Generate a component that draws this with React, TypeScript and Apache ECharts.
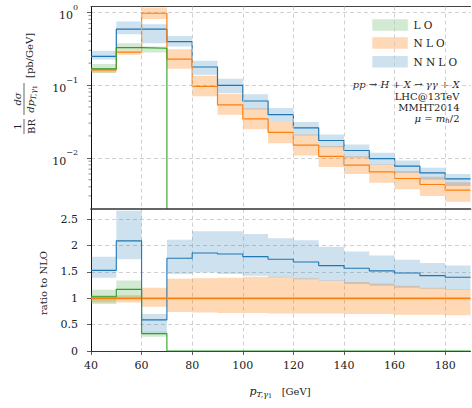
import React, { useEffect, useRef } from "react";
import * as echarts from "echarts";

// Bin edges in p_T [GeV]
const binEdges = [40, 50, 60, 70, 80, 90, 100, 110, 120, 130, 140, 150, 160, 170, 180, 190];

// 1/BR dσ/dp_T [pb/GeV]
const loCentral = [0.167, 0.327, 0.321, 0, 0, 0, 0, 0, 0, 0, 0, 0, 0, 0, 0];
const loUpper = [0.194, 0.376, 0.338, 0, 0, 0, 0, 0, 0, 0, 0, 0, 0, 0, 0];
const loLower = [0.146, 0.3, 0.28, 0, 0, 0, 0, 0, 0, 0, 0, 0, 0, 0, 0];

const nloCentral = [0.162, 0.283, 0.969, 0.227, 0.0959, 0.0533, 0.0342, 0.0224, 0.0149, 0.0105, 0.00792, 0.00643, 0.0052, 0.0043, 0.0036];
const nloUpper = [0.171, 0.3, 1.16, 0.311, 0.134, 0.076, 0.048, 0.031, 0.0209, 0.0145, 0.0105, 0.0081, 0.0066, 0.0055, 0.0046];
const nloLower = [0.149, 0.26, 0.81, 0.167, 0.07, 0.039, 0.0246, 0.0158, 0.0108, 0.0075, 0.006, 0.00455, 0.0037, 0.003, 0.0025];

const nnloCentral = [0.247, 0.585, 0.585, 0.396, 0.177, 0.099, 0.0604, 0.0392, 0.0258, 0.0173, 0.0126, 0.00978, 0.00767, 0.00623, 0.00515];
const nnloUpper = [0.295, 0.744, 0.685, 0.473, 0.215, 0.122, 0.075, 0.0484, 0.031, 0.0209, 0.0152, 0.0117, 0.0092, 0.0073, 0.006];
const nnloLower = [0.225, 0.5, 0.376, 0.338, 0.138, 0.078, 0.046, 0.031, 0.0203, 0.014, 0.01, 0.008, 0.0062, 0.005, 0.0041];

// Ratios to NLO
const loRatio = [1.03, 1.17, 0.33, 0, 0, 0, 0, 0, 0, 0, 0, 0, 0, 0, 0];
const loRatioUpper = [1.16, 1.34, 0.37, 0, 0, 0, 0, 0, 0, 0, 0, 0, 0, 0, 0];
const loRatioLower = [0.89, 1.0, 0.27, 0, 0, 0, 0, 0, 0, 0, 0, 0, 0, 0, 0];

const nloRatio = [1, 1, 1, 1, 1, 1, 1, 1, 1, 1, 1, 1, 1, 1, 1];
const nloRatioUpper = [1.06, 1.06, 1.2, 1.37, 1.38, 1.39, 1.41, 1.41, 1.38, 1.34, 1.31, 1.28, 1.24, 1.2, 1.17];
const nloRatioLower = [0.92, 0.92, 0.84, 0.74, 0.73, 0.72, 0.72, 0.71, 0.71, 0.71, 0.7, 0.7, 0.69, 0.69, 0.68];

const nnloRatio = [1.53, 2.09, 0.59, 1.76, 1.86, 1.84, 1.79, 1.74, 1.69, 1.62, 1.57, 1.52, 1.48, 1.43, 1.4];
const nnloRatioUpper = [1.79, 2.66, 0.7, 2.11, 2.27, 2.27, 2.22, 2.14, 2.1, 1.98, 1.89, 1.81, 1.73, 1.67, 1.62];
const nnloRatioLower = [1.39, 1.74, 0.35, 1.46, 1.49, 1.46, 1.43, 1.4, 1.36, 1.33, 1.27, 1.24, 1.2, 1.18, 1.16];

const ratioTicks = [0, 0.5, 1, 1.5, 2, 2.5];

const X_MIN = 40;
const X_MAX = 190;
const Y_LOG_MIN = 0.002;
const Y_LOG_MAX = 1.2;
const R_MAX = 2.7;

const SERIF = '"DejaVu Serif", "Liberation Serif", serif';
const INK = "#222";
const C_LO = "#2ca02c";
const C_NLO = "#ff7f0e";
const C_NNLO = "#1f77b4";
const F_LO = "rgba(44,160,44,0.22)";
const F_NLO = "rgba(255,127,14,0.3)";
const F_NNLO = "rgba(31,119,180,0.22)";

// step outline of a histogram; a bin dropping to zero ends the line at `floor`
function stepPoints(vals: number[], floor?: number) {
  const pts: number[][] = [];
  for (let i = 0; i < vals.length; i++) {
    if (floor !== undefined && vals[i] <= 0) {
      pts.push([binEdges[i], floor]);
      break;
    }
    pts.push([binEdges[i], vals[i]], [binEdges[i + 1], vals[i]]);
  }
  return pts;
}

function bandData(lo: number[], hi: number[]) {
  const d: number[][] = [];
  for (let i = 0; i < lo.length; i++) {
    if (hi[i] > 0) d.push([binEdges[i], binEdges[i + 1], lo[i], hi[i]]);
  }
  return d;
}

function bandSeries(name: string, lo: number[], hi: number[], fill: string, xi: number, yi: number) {
  return {
    name,
    type: "custom",
    xAxisIndex: xi,
    yAxisIndex: yi,
    clip: true,
    silent: true,
    z: 1,
    encode: { x: [0, 1], y: [2, 3] },
    data: bandData(lo, hi),
    renderItem: (params: any, api: any) => {
      if (params.dataIndexInside !== 0) return null;
      const n = params.dataInsideLength;
      const top: number[][] = [];
      const bot: number[][] = [];
      for (let i = 0; i < n; i++) {
        const x0 = api.value(0, i);
        const x1 = api.value(1, i);
        const l = api.value(2, i);
        const h = api.value(3, i);
        top.push(api.coord([x0, h]), api.coord([x1, h]));
        bot.push(api.coord([x0, l]), api.coord([x1, l]));
      }
      return {
        type: "polygon",
        shape: { points: top.concat(bot.reverse()) },
        style: { fill, stroke: "none" },
      };
    },
  };
}

function lineSeries(name: string, pts: number[][], color: string, width: number, xi: number, yi: number, z = 3) {
  return {
    name,
    type: "line",
    xAxisIndex: xi,
    yAxisIndex: yi,
    data: pts,
    showSymbol: false,
    symbol: "none",
    silent: true,
    clip: true,
    z,
    lineStyle: { color, width },
  };
}

const dashed = { show: true, lineStyle: { color: "#c4c4c4", type: [4, 3] as any, width: 0.8 }, showMinLine: false, showMaxLine: false };

function txt(x: number, y: number, text: string, opts: any = {}) {
  const align = opts.align || "center";
  const valign = opts.valign || "middle";
  return {
    type: "text",
    x,
    y,
    silent: true,
    style: {
      text,
      fontFamily: SERIF,
      fontSize: opts.size || 10,
      fontStyle: opts.italic ? "italic" : "normal",
      fill: INK,
      align,
      verticalAlign: valign,
      textAlign: align,
      textVerticalAlign: valign,
    },
  };
}

// a run of text pieces (italic / lowered / smaller) set side by side
type Piece = { t: string; it?: boolean; size?: number; dy?: number };
let measureCtx: CanvasRenderingContext2D | null = null;
function widthOf(p: Piece) {
  if (!measureCtx) measureCtx = document.createElement("canvas").getContext("2d");
  measureCtx!.font = `${p.it ? "italic " : ""}${p.size || 10}px ${SERIF}`;
  return measureCtx!.measureText(p.t).width;
}
function run(x: number, y: number, pieces: Piece[], anchor: "left" | "center" | "right") {
  const total = pieces.reduce((s, p) => s + widthOf(p), 0);
  let cx = anchor === "left" ? x : anchor === "center" ? x - total / 2 : x - total;
  const out: any[] = [];
  for (const p of pieces) {
    out.push(txt(cx, y + (p.dy || 0), p.t, { align: "left", italic: p.it, size: p.size || 10 }));
    cx += widthOf(p);
  }
  return out;
}

// letter-spaced legend word
function spaced(x: number, y: number, word: string, gap: number) {
  const out: any[] = [];
  let cx = x;
  for (const ch of word) {
    out.push(txt(cx, y, ch, { align: "left", size: 10.5 }));
    cx += widthOf({ t: ch, size: 10.5 }) + gap;
  }
  return out;
}

function minorTickValues() {
  const v: number[] = [];
  for (let e = -3; e <= 0; e++) {
    for (let m = 2; m <= 9; m++) {
      const val = m * Math.pow(10, e);
      if (val > Y_LOG_MIN && val < Y_LOG_MAX) v.push(val);
    }
  }
  return v;
}

function buildOption() {
  const gridL = 91;
  const gridW = 379.5;

  const legend = [
    { label: "LO", fill: F_LO, y: 19.2 },
    { label: "NLO", fill: F_NLO, y: 37.3 },
    { label: "NNLO", fill: F_NNLO, y: 56 },
  ];
  const legendEls: any[] = [];
  legend.forEach((l) => {
    legendEls.push({ type: "rect", silent: true, shape: { x: 372.3, y: l.y, width: 35.5, height: 11.5 }, style: { fill: l.fill } });
    legendEls.push(...spaced(413.5, l.y + 5.5, l.label, 3.2));
  });

  const annot = [
    ...run(459.5, 84.7, [
      { t: "pp", it: true },
      { t: " → " },
      { t: "H", it: true },
      { t: " + " },
      { t: "X", it: true },
      { t: " → " },
      { t: "γγ", it: true },
      { t: " + " },
      { t: "X", it: true },
    ], "right"),
    txt(459.5, 96.2, "LHC@13TeV", { align: "right" }),
    txt(459.5, 107.5, "MMHT2014", { align: "right" }),
    ...run(459.5, 118.8, [
      { t: "μ", it: true },
      { t: " = " },
      { t: "m", it: true },
      { t: "h", it: true, size: 7, dy: 2.5 },
      { t: "/2" },
    ], "right"),
  ];

  const yLabelTop = {
    type: "group",
    x: 24,
    y: 134,
    rotation: Math.PI / 2,
    silent: true,
    children: [
      txt(7.5, -6.2, "1"),
      { type: "line", shape: { x1: 0, y1: 0, x2: 15, y2: 0 }, style: { stroke: INK, lineWidth: 0.7 } },
      txt(7.5, 7, "BR"),
      ...run(35, -6.4, [{ t: "dσ", it: true }], "center"),
      { type: "line", shape: { x1: 19, y1: 0, x2: 51, y2: 0 }, style: { stroke: INK, lineWidth: 0.7 } },
      ...run(35, 6.6, [
        { t: "dp", it: true },
        { t: "T,γ", it: true, size: 7.5, dy: 2.5 },
        { t: "1", size: 6, dy: 4 },
      ], "center"),
      txt(56, 5, "[pb/GeV]", { align: "left" }),
    ],
  };

  const yLabelBottom = {
    type: "group",
    x: 43,
    y: 283,
    rotation: Math.PI / 2,
    silent: true,
    children: [txt(0, 0, "ratio to NLO")],
  };

  const xLabel = run(280, 391, [
    { t: "p", it: true, size: 11 },
    { t: "T,γ", it: true, size: 8, dy: 3 },
    { t: "1", size: 6.5, dy: 4.5 },
    { t: "   [GeV]", size: 10 },
  ], "center");

  const supExp = (v: number) => {
    const e = Math.round(Math.log10(v));
    const s = e < 0 ? "−" + -e : String(e);
    return `{b|10}{e|${s}}`;
  };

  return {
    animation: false,
    backgroundColor: "#ffffff",
    grid: [
      { left: gridL, top: 6.5, width: gridW, height: 202.2 },
      { left: gridL, top: 208.7, width: gridW, height: 142.3 },
    ],
    xAxis: [
      {
        gridIndex: 0,
        type: "value",
        min: X_MIN,
        max: X_MAX,
        interval: 20,
        position: "bottom",
        z: 10,
        axisLine: { show: true, onZero: false, lineStyle: { color: "#333", width: 1.7 } },
        axisTick: { show: false },
        axisLabel: { show: false },
        splitLine: dashed,
      },
      {
        gridIndex: 0,
        type: "value",
        min: X_MIN,
        max: X_MAX,
        interval: 20,
        position: "top",
        axisLine: { show: true, onZero: false, lineStyle: { color: "#444", width: 1 } },
        axisTick: { show: false },
        axisLabel: { show: false },
        splitLine: { show: false },
      },
      {
        gridIndex: 1,
        type: "value",
        min: X_MIN,
        max: X_MAX,
        interval: 20,
        position: "bottom",
        axisLine: { show: true, onZero: false, lineStyle: { color: "#333", width: 1 } },
        axisTick: { show: true, inside: false, length: 4, lineStyle: { color: "#333", width: 0.8 } },
        axisLabel: { show: true, margin: 9, fontFamily: SERIF, fontSize: 11, color: INK, showMaxLabel: false },
        splitLine: dashed,
      },
    ],
    yAxis: [
      {
        gridIndex: 0,
        type: "log",
        logBase: 10,
        min: Y_LOG_MIN,
        max: Y_LOG_MAX,
        axisLine: { show: true, onZero: false, lineStyle: { color: "#111", width: 1 } },
        axisTick: { show: true, inside: false, length: 4, lineStyle: { color: "#333", width: 0.8 } },
        axisLabel: {
          show: true,
          margin: 13,
          showMinLabel: false,
          showMaxLabel: false,
          formatter: supExp,
          rich: {
            b: { fontFamily: SERIF, fontSize: 11, color: INK, lineHeight: 18, verticalAlign: "bottom" },
            e: { fontFamily: SERIF, fontSize: 8, color: INK, verticalAlign: "top" },
          },
        },
        splitLine: dashed,
      },
      {
        gridIndex: 1,
        type: "value",
        min: 0,
        max: R_MAX,
        interval: 0.5,
        axisLine: { show: true, onZero: false, lineStyle: { color: "#111", width: 1 } },
        axisTick: { show: true, inside: false, length: 4, lineStyle: { color: "#333", width: 0.8 } },
        axisLabel: {
          show: true,
          margin: 13,
          showMaxLabel: false,
          fontFamily: SERIF,
          fontSize: 11,
          color: INK,
          formatter: (v: number) => (ratioTicks.includes(v) ? String(v) : ""),
        },
        splitLine: dashed,
      },
    ],
    series: [
      // upper panel
      bandSeries("LO band", loLower, loUpper, F_LO, 0, 0),
      bandSeries("NLO band", nloLower, nloUpper, F_NLO, 0, 0),
      bandSeries("NNLO band", nnloLower, nnloUpper, F_NNLO, 0, 0),
      lineSeries("NNLO", stepPoints(nnloCentral), C_NNLO, 1.2, 0, 0),
      lineSeries("NLO", stepPoints(nloCentral), C_NLO, 1.2, 0, 0),
      lineSeries("LO", stepPoints(loCentral, Y_LOG_MIN), C_LO, 1.1, 0, 0, 4),
      {
        type: "custom",
        xAxisIndex: 0,
        yAxisIndex: 0,
        silent: true,
        clip: false,
        z: 5,
        data: minorTickValues().map((v) => [X_MIN, v]),
        renderItem: (_p: any, api: any) => {
          const p = api.coord([api.value(0), api.value(1)]);
          return {
            type: "line",
            shape: { x1: p[0] - 2.5, y1: p[1], x2: p[0], y2: p[1] },
            style: { stroke: "#444", lineWidth: 0.6 },
          };
        },
      },
      // ratio panel
      bandSeries("NLO ratio band", nloRatioLower, nloRatioUpper, F_NLO, 2, 1),
      bandSeries("LO ratio band", loRatioLower, loRatioUpper, F_LO, 2, 1),
      bandSeries("NNLO ratio band", nnloRatioLower, nnloRatioUpper, F_NNLO, 2, 1),
      lineSeries("NNLO ratio", stepPoints(nnloRatio), C_NNLO, 1.1, 2, 1),
      lineSeries("NLO ratio", stepPoints(nloRatio), C_NLO, 1.8, 2, 1),
      lineSeries("LO ratio", stepPoints(loRatio), C_LO, 1.1, 2, 1, 4),
    ],
    graphic: [...legendEls, ...annot, yLabelTop, yLabelBottom, ...xLabel],
  };
}

export default function App() {
  const ref = useRef<HTMLDivElement>(null);
  useEffect(() => {
    if (!ref.current) return;
    const chart = echarts.init(ref.current, undefined, { renderer: "svg" });
    chart.setOption(buildOption() as any);
    return () => chart.dispose();
  }, []);
  return (
    <div
      ref={ref}
      style={{ position: "fixed", left: 0, top: 0, width: 472, height: 408, background: "#fff" }}
    />
  );
}
